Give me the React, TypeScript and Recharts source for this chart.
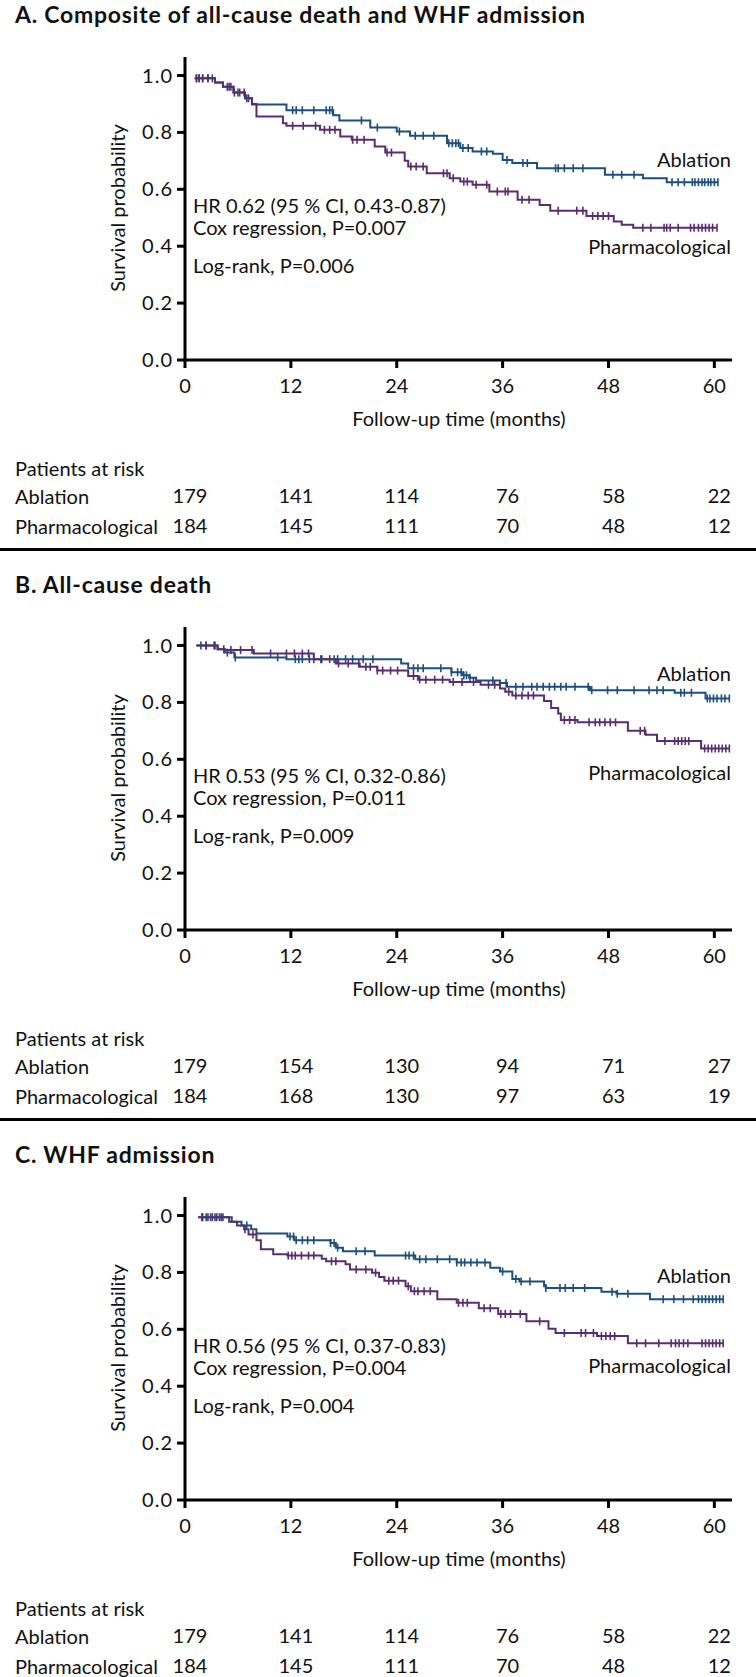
import React from "react";
import { LineChart, Line, XAxis, YAxis } from "recharts";

const BLUE = "#1d4f7e";
const PURPLE = "#5b2c6f";
const FONT = "Lato, 'Open Sans', sans-serif";

const xTicks = [0, 12, 24, 36, 48, 60];
const yTicks = [0, 0.2, 0.4, 0.6, 0.8, 1.0];

// A. composite endpoint — [month, survival] at each drop
const ablationA: [number, number][] = [
  [1.1, 0.99], [3.4, 0.975], [4.3, 0.96], [5.5, 0.94], [6.8, 0.92], [7.6, 0.898], [11.5, 0.878],
  [16.8, 0.86], [17.5, 0.842], [21.0, 0.817], [24.0, 0.803], [25.5, 0.788], [29.7, 0.762],
  [31.2, 0.745], [32.6, 0.733], [34.9, 0.725], [36.0, 0.703], [37.1, 0.692], [39.9, 0.674],
  [47.6, 0.651], [51.9, 0.639], [54.6, 0.625],
];
const ablationCensA = [
  1.3, 1.6, 2.0, 2.6, 3.1, 5.0, 6.0, 7.2, 12.2, 12.6, 13.3, 14.6, 16.0, 16.4, 16.7, 20.0, 21.8, 24.3,
  26.1, 27.0, 28.2, 29.9, 30.3, 30.7, 31.0, 31.5, 32.1, 33.6, 34.2, 36.5, 38.3, 38.8, 42.0, 42.3,
  43.0, 44.0, 45.1, 48.5, 49.5, 50.9, 55.2, 55.9, 56.6, 57.5, 57.8, 58.2, 58.6, 58.9, 59.3, 59.6,
  60.0, 60.4,
];
const pharmaA: [number, number][] = [
  [1.1, 0.99], [3.4, 0.975], [4.3, 0.96], [5.5, 0.94], [6.8, 0.92], [7.6, 0.9], [8.1, 0.856],
  [11.1, 0.832], [11.5, 0.823], [15.3, 0.809], [17.6, 0.786], [18.9, 0.774], [21.5, 0.75],
  [22.7, 0.729], [24.9, 0.7], [25.3, 0.68], [27.4, 0.656], [30.0, 0.639], [31.2, 0.627],
  [32.6, 0.616], [34.5, 0.592], [37.7, 0.563], [40.2, 0.545], [41.4, 0.525], [45.5, 0.506],
  [48.6, 0.487], [49.5, 0.475], [50.8, 0.465],
];
const pharmaCensA = [
  1.3, 1.6, 2.0, 2.6, 4.8, 5.2, 5.6, 6.2, 6.7, 7.0, 12.2, 13.4, 14.8, 15.8, 16.4, 17.0, 19.0, 19.5,
  20.3, 22.9, 23.4, 25.6, 26.2, 27.0, 29.3, 29.7, 30.4, 31.6, 32.0, 33.0, 34.2, 35.4, 36.3, 36.6,
  38.2, 39.0, 42.3, 44.4, 45.1, 46.2, 46.8, 47.4, 48.0, 51.9, 52.8, 54.3, 54.6, 55.0, 55.9, 57.3,
  57.7, 58.2, 58.6, 59.0, 59.4, 59.8, 60.3,
];
const riskAblA = [179, 141, 114, 76, 58, 22];
const riskPharmA = [184, 145, 111, 70, 48, 12];

// B. all-cause death
const ablationB: [number, number][] = [
  [1.3, 1.0], [3.7, 0.987], [4.5, 0.975], [5.6, 0.958], [11.5, 0.952], [24.5, 0.937], [25.3, 0.92],
  [30.2, 0.906], [31.5, 0.895], [32.2, 0.887], [33.0, 0.877], [35.7, 0.868], [36.5, 0.855],
  [45.9, 0.843], [55.5, 0.834], [59.0, 0.814],
];
const ablationCensB = [
  1.8, 2.4, 3.3, 4.8, 5.7, 10.5, 12.5, 12.9, 13.3, 14.1, 15.4, 16.9, 17.3, 18.2, 19.0, 20.2, 21.3,
  25.9, 26.4, 27.0, 29.0, 30.2, 30.9, 31.3, 31.6, 31.9, 32.3, 34.9, 36.4, 37.5, 38.3, 39.3, 39.9,
  40.6, 41.3, 41.9, 42.6, 43.2, 44.2, 45.7, 46.1, 47.9, 49.0, 50.9, 52.6, 53.5, 54.2, 56.2, 56.6,
  57.4, 59.2, 59.5, 59.9, 60.3, 60.8, 61.2, 61.7,
];
const pharmaB: [number, number][] = [
  [1.3, 1.0], [3.7, 0.987], [4.5, 0.984], [7.8, 0.972], [14.6, 0.952], [17.1, 0.937], [19.8, 0.925],
  [21.8, 0.912], [25.3, 0.893], [26.4, 0.88], [30.0, 0.872], [33.5, 0.862], [35.7, 0.849],
  [36.3, 0.837], [37.1, 0.824], [40.7, 0.805], [41.5, 0.78], [42.3, 0.761], [42.6, 0.738],
  [44.5, 0.73], [50.2, 0.7], [52.2, 0.686], [53.5, 0.664], [58.5, 0.638],
];
const pharmaCensB = [
  2.4, 3.4, 4.4, 5.2, 6.3, 7.6, 9.7, 11.5, 12.4, 13.3, 14.0, 14.6, 15.5, 16.4, 17.4, 18.5, 19.7,
  20.5, 21.0, 21.8, 22.4, 23.3, 24.1, 25.9, 26.6, 27.3, 28.3, 29.2, 30.4, 31.4, 32.7, 34.4, 35.1,
  36.7, 37.5, 38.2, 38.9, 39.5, 43.0, 43.6, 44.2, 45.8, 46.5, 47.0, 47.6, 48.2, 48.8, 51.6, 52.1,
  54.4, 55.5, 55.9, 56.3, 56.7, 57.1, 58.9, 59.3, 59.7, 60.1, 60.5, 60.9, 61.3, 61.7,
];
const riskAblB = [179, 154, 130, 94, 71, 27];
const riskPharmB = [184, 168, 130, 97, 63, 19];

// C. WHF admission
const ablationC: [number, number][] = [
  [1.5, 0.994], [5.3, 0.978], [6.4, 0.965], [7.5, 0.952], [8.1, 0.937], [11.6, 0.926], [12.4, 0.913],
  [16.5, 0.903], [17.1, 0.887], [17.9, 0.874], [21.5, 0.859], [26.1, 0.846], [30.8, 0.835],
  [34.6, 0.816], [35.7, 0.803], [37.1, 0.777], [37.9, 0.768], [40.7, 0.751], [40.9, 0.745],
  [47.2, 0.732], [48.9, 0.725], [52.7, 0.706],
];
const ablationCensC = [
  1.9, 2.4, 2.9, 3.4, 3.9, 4.3, 7.0, 11.9, 12.3, 12.6, 13.3, 13.9, 14.6, 16.5, 16.9, 17.3, 19.4,
  20.4, 25.0, 25.4, 25.9, 26.6, 27.3, 28.6, 30.0, 30.8, 31.3, 31.7, 32.4, 33.1, 34.0, 36.0, 37.5,
  38.1, 39.1, 40.9, 42.5, 43.1, 44.0, 45.3, 48.4, 49.0, 50.2, 54.2, 55.4, 56.5, 57.6, 58.2, 58.6,
  59.0, 59.4, 59.8, 60.2, 60.6, 61.0,
];
const pharmaC: [number, number][] = [
  [1.5, 0.994], [5.0, 0.978], [5.9, 0.965], [6.7, 0.952], [7.2, 0.933], [8.1, 0.913], [8.6, 0.881],
  [10.0, 0.864], [11.6, 0.859], [15.5, 0.848], [16.0, 0.839], [18.2, 0.829], [18.7, 0.81],
  [21.2, 0.799], [22.0, 0.784], [22.6, 0.771], [25.0, 0.751], [25.6, 0.734], [28.6, 0.706],
  [30.8, 0.693], [33.3, 0.674], [35.5, 0.654], [38.7, 0.628], [41.2, 0.602], [42.0, 0.587],
  [46.7, 0.576], [50.2, 0.551],
];
const pharmaCensC = [
  2.0, 2.6, 3.1, 3.6, 4.1, 6.8, 7.7, 11.7, 12.1, 12.5, 13.2, 14.0, 14.6, 16.6, 17.1, 19.4, 20.5,
  21.6, 23.1, 23.6, 24.2, 25.3, 26.0, 26.4, 27.1, 27.8, 31.0, 31.5, 32.0, 33.9, 34.6, 35.8, 36.3,
  36.9, 38.0, 40.2, 43.0, 44.9, 45.4, 46.3, 47.2, 47.7, 48.2, 48.7, 51.2, 52.2, 53.7, 55.1, 55.6,
  56.0, 56.5, 57.0, 58.6, 59.0, 59.4, 59.8, 60.2, 60.6, 61.0,
];
const riskAblC = [179, 141, 114, 76, 58, 22];
const riskPharmC = [184, 145, 111, 70, 48, 12];

type Pt = { t: number; s: number; c: boolean };

// merge drops and censor marks; a censor mark sits on the current step
function buildSeries(steps: [number, number][], cens: number[]): Pt[] {
  const pts: Pt[] = steps.map(([t, s]) => ({ t, s, c: false }));
  cens.forEach((t) => {
    let s = steps[0][1];
    for (const [st, sv] of steps) if (st <= t) s = sv;
    pts.push({ t, s, c: true });
  });
  return pts.sort((a, b) => a.t - b.t || (a.c ? 1 : -1));
}

const censorDot = (color: string) => (props: any) => {
  const { cx, cy, payload, index } = props;
  if (!payload || !payload.c || cx == null) return <g key={`n${index}`} />;
  return <line key={`c${index}`} x1={cx} x2={cx} y1={cy - 4} y2={cy + 4} stroke={color} strokeWidth={1.6} />;
};

const txt: React.CSSProperties = {
  position: "absolute",
  fontFamily: FONT,
  fontSize: 20,
  lineHeight: 1,
  color: "#111",
  whiteSpace: "nowrap",
  transform: "translateY(-50%)",
};

type PanelProps = {
  top: number;
  title: string;
  ablation: [number, number][];
  ablationCens: number[];
  pharma: [number, number][];
  pharmaCens: number[];
  riskAbl: number[];
  riskPharm: number[];
  stats: string[];
  ablY: number;
  pharmY: number;
  separator: boolean;
};

function Panel(p: PanelProps) {
  const abl = buildSeries(p.ablation, p.ablationCens);
  const pha = buildSeries(p.pharma, p.pharmaCens);
  const tickStyle = { fill: "#111", fontSize: 20, fontFamily: FONT };
  // axes stack by id, so ids are chosen to keep time axis first, then the two at-risk rows
  const riskAxis = (id: string, row: number[]) => (
    <XAxis
      xAxisId={id}
      type="number"
      dataKey="t"
      domain={[0, 62]}
      ticks={xTicks}
      interval={0}
      allowDataOverflow
      height={30}
      tickSize={0}
      tickMargin={49}
      axisLine={false}
      tickLine={false}
      tick={{ ...tickStyle, dx: 5 }}
      tickFormatter={(v: number) => String(row[xTicks.indexOf(v)])}
    />
  );
  return (
    <div style={{ position: "absolute", left: 0, top: p.top, width: 756, height: 570 }}>
      <div style={{ ...txt, left: 15, top: 14, fontSize: 23, letterSpacing: 0.75, fontWeight: 700 }}>{p.title}</div>
      <div style={{ position: "absolute", left: 0, top: 0 }}>
        <LineChart width={756} height={560} margin={{ top: 57, right: 24, bottom: 60, left: 0 }}>
          <XAxis
            xAxisId="a_time"
            type="number"
            dataKey="t"
            domain={[0, 62]}
            ticks={xTicks}
            interval={0}
            allowDataOverflow
            height={80}
            tickSize={8}
            tickMargin={11}
            tick={tickStyle}
            axisLine={{ stroke: "#000", strokeWidth: 3 }}
            tickLine={{ stroke: "#000", strokeWidth: 3 }}
          />
          {riskAxis("b_abl", p.riskAbl)}
          {riskAxis("c_pha", p.riskPharm)}
          <YAxis
            type="number"
            domain={[0, 1.065]}
            ticks={yTicks}
            interval={0}
            allowDataOverflow
            width={185}
            tickSize={8}
            tickMargin={4}
            tick={{ ...tickStyle, letterSpacing: 1 }}
            tickFormatter={(v: number) => v.toFixed(1)}
            axisLine={{ stroke: "#000", strokeWidth: 3 }}
            tickLine={{ stroke: "#000", strokeWidth: 3 }}
          />
          {/* invisible copies so the at-risk axes have a series bound to them */}
          <Line xAxisId="b_abl" data={abl} dataKey="s" stroke="none" dot={false} activeDot={false} isAnimationActive={false} />
          <Line xAxisId="c_pha" data={pha} dataKey="s" stroke="none" dot={false} activeDot={false} isAnimationActive={false} />
          <Line
            xAxisId="a_time"
            data={abl}
            dataKey="s"
            type="stepAfter"
            stroke={BLUE}
            strokeWidth={2}
            dot={censorDot(BLUE)}
            activeDot={false}
            isAnimationActive={false}
          />
          <Line
            xAxisId="a_time"
            data={pha}
            dataKey="s"
            type="stepAfter"
            stroke={PURPLE}
            strokeWidth={2}
            dot={censorDot(PURPLE)}
            activeDot={false}
            isAnimationActive={false}
          />
        </LineChart>
      </div>
      <div
        style={{
          ...txt,
          left: 117,
          top: 208,
          transform: "translate(-50%, -50%) rotate(-90deg)",
        }}
      >
        Survival probability
      </div>
      <div style={{ ...txt, left: 459, top: 418, transform: "translate(-50%, -50%)" }}>
        Follow-up time (months)
      </div>
      <div style={{ ...txt, left: 193, top: 205 }}>{p.stats[0]}</div>
      <div style={{ ...txt, left: 193, top: 227 }}>{p.stats[1]}</div>
      <div style={{ ...txt, left: 193, top: 265 }}>{p.stats[2]}</div>
      <div style={{ ...txt, right: 25, top: p.ablY }}>Ablation</div>
      <div style={{ ...txt, right: 25, top: p.pharmY }}>Pharmacological</div>
      <div style={{ ...txt, left: 15, top: 468 }}>Patients at risk</div>
      <div style={{ ...txt, left: 15, top: 496 }}>Ablation</div>
      <div style={{ ...txt, left: 15, top: 526 }}>Pharmacological</div>
      {p.separator && (
        <div style={{ position: "absolute", left: 0, top: 548, width: 756, height: 3, background: "#000" }} />
      )}
    </div>
  );
}

export default function App() {
  return (
    <div style={{ position: "absolute", left: 0, top: 0, width: 756, height: 1677, background: "#fff", overflow: "hidden" }}>
      <Panel
        top={0}
        title="A. Composite of all-cause death and WHF admission"
        ablation={ablationA}
        ablationCens={ablationCensA}
        pharma={pharmaA}
        pharmaCens={pharmaCensA}
        riskAbl={riskAblA}
        riskPharm={riskPharmA}
        stats={["HR 0.62 (95 % CI, 0.43-0.87)", "Cox regression, P=0.007", "Log-rank, P=0.006"]}
        ablY={159}
        pharmY={246}
        separator
      />
      <Panel
        top={570}
        title="B. All-cause death"
        ablation={ablationB}
        ablationCens={ablationCensB}
        pharma={pharmaB}
        pharmaCens={pharmaCensB}
        riskAbl={riskAblB}
        riskPharm={riskPharmB}
        stats={["HR 0.53 (95 % CI, 0.32-0.86)", "Cox regression, P=0.011", "Log-rank, P=0.009"]}
        ablY={103}
        pharmY={202}
        separator
      />
      <Panel
        top={1140}
        title="C. WHF admission"
        ablation={ablationC}
        ablationCens={ablationCensC}
        pharma={pharmaC}
        pharmaCens={pharmaCensC}
        riskAbl={riskAblC}
        riskPharm={riskPharmC}
        stats={["HR 0.56 (95 % CI, 0.37-0.83)", "Cox regression, P=0.004", "Log-rank, P=0.004"]}
        ablY={135}
        pharmY={225}
        separator={false}
      />
    </div>
  );
}
